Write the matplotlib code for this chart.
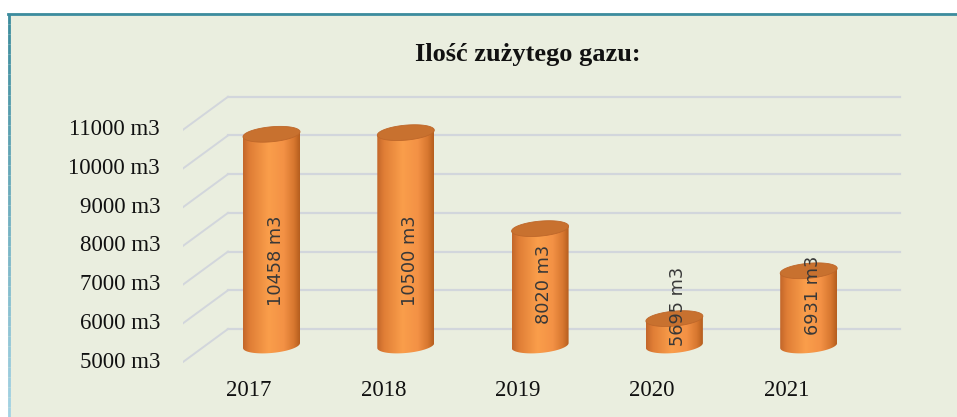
import matplotlib.pyplot as plt
import numpy as np
from matplotlib.patches import Polygon, Rectangle
from matplotlib.colors import LinearSegmentedColormap
from matplotlib.lines import Line2D

# dane
years = ['2017', '2018', '2019', '2020', '2021']
gas = [10458, 10500, 8020, 5695, 6931]
ticks = [5000, 6000, 7000, 8000, 9000, 10000, 11000]

bg = '#EAEEDF'
fig = plt.figure(figsize=(9.57, 4.17), dpi=100)
fig.patch.set_facecolor('white')

# tlo i ramka
fig.add_artist(Rectangle((8 / 957, 0), 1, (417 - 13) / 417, transform=fig.transFigure,
                         facecolor=bg, edgecolor='none', zorder=0))
fig.add_artist(Line2D([8 / 957, 1], [1 - 14 / 417, 1 - 14 / 417], transform=fig.transFigure,
                      color='#3C8C9E', lw=2.0))
cm_border = LinearSegmentedColormap.from_list('b', ['#3C8C9E', '#A6D4E6'])
n = 40
for k in range(n):
    y0 = 1 - 14 / 417 - k / n * (1 - 14 / 417)
    y1 = 1 - 14 / 417 - (k + 1) / n * (1 - 14 / 417)
    fig.add_artist(Line2D([9 / 957, 9 / 957], [y0, y1], transform=fig.transFigure,
                          color=cm_border(k / n), lw=2.0, solid_capstyle='butt'))

# osie (x: indeks kategorii, y: wartosc)
ax = fig.add_axes([183 / 957, 17 / 417, 720 / 957, 320 / 417])
ax.set_xlim(-66 / 134.3, 654 / 134.3)
ax.set_ylim(5000 - 38 / 0.0387, 5000 + 282 / 0.0387)
ax.axis('off')

dx = 0.335    # glebokosc w jednostkach kategorii
dy = 853      # glebokosc w jednostkach wartosci
x_left = -66 / 134.3
x_right = (900 - 249) / 134.3

# siatka (sciana tylna + skosy)
for v in ticks:
    ax.plot([x_left, x_left + dx], [v, v + dy], color='#D2D6DC', lw=1.4, zorder=1)
    ax.plot([x_left + dx, x_right], [v + dy, v + dy], color='#D2D6DC', lw=1.6, zorder=1)
    ax.text(-89 / 134.3, v, f'{v} m3', ha='right', va='center', fontsize=16.5,
            family='Liberation Serif', color='#111111', clip_on=False)

for i, yr in enumerate(years):
    ax.text(i, 5000 - 28 / 0.0387, yr, ha='center', va='center', fontsize=16.5,
            family='Liberation Serif', color='#111111')

# walce
cmap = LinearSegmentedColormap.from_list('cyl', [
    (0.0, '#C4672A'), (0.12, '#E07E36'), (0.45, '#FA9E4B'),
    (0.72, '#F39145'), (0.9, '#D7772F'), (1.0, '#B65F1F')])
a = 28.5 / 134.3
b = 7.5 / 0.0387
s = 300
t = np.linspace(0, np.pi, 60)
for i, v in enumerate(gas):
    cx = i + dx / 2
    base = 5000 + dy / 2
    top = v + dy / 2
    xs = cx + a * np.cos(t)
    body = [(cx - a, top - s * a), (cx - a, base - s * a)]
    body += list(zip(xs[::-1], (base + s * a * np.cos(t) - b * np.sin(t))[::-1]))
    body += [(cx + a, base + s * a), (cx + a, top + s * a)]
    poly = Polygon(body, closed=True, facecolor='none', edgecolor='none')
    ax.add_patch(poly)
    im = ax.imshow(np.linspace(0, 1, 100)[None, :], cmap=cmap, aspect='auto',
                   extent=[cx - a, cx + a, base - b - s * a, top + s * a], zorder=2)
    im.set_clip_path(poly)
    tt = np.linspace(0, 2 * np.pi, 120)
    ell = list(zip(cx + a * np.cos(tt), top + s * a * np.cos(tt) + b * np.sin(tt)))
    ax.add_patch(Polygon(ell, closed=True, facecolor='#C8712F', edgecolor='#BE672A',
                         lw=0.6, zorder=3))
    mid = (v + 5000) / 2
    lab = (mid + 6650) / 2 + dy / 2
    ax.text(cx + 0.03, lab, f'{v} m3', rotation=90, ha='center', va='center',
            fontsize=12.8, color='#383838', family='DejaVu Sans', zorder=4)

fig.text(528 / 957, 1 - 55 / 417, 'Ilość zużytego gazu:', ha='center', va='center',
         fontsize=19, fontweight='bold', family='Liberation Serif', color='#111111')

plt.savefig('out.png', dpi=100, facecolor=fig.get_facecolor())
